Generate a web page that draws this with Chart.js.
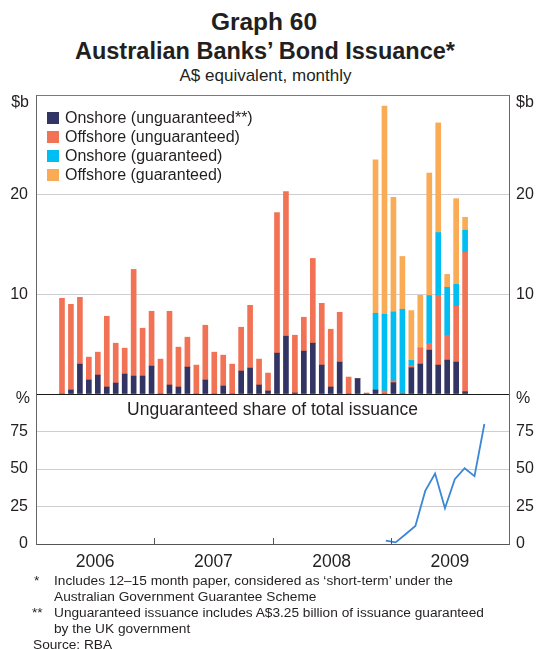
<!DOCTYPE html>
<html><head><meta charset="utf-8">
<script src="https://cdn.jsdelivr.net/npm/chart.js@4.4.1/dist/chart.umd.min.js"></script>
<style>
body{margin:0;background:#fff;}
#wrap{position:relative;width:537px;height:649px;overflow:hidden;font-family:"Liberation Sans",Arial,sans-serif;color:#231f20;background:#fff;}
.t{position:absolute;white-space:nowrap;line-height:1;}
canvas{position:absolute;left:0;}
.sw{position:absolute;width:12px;height:12px;left:47px;}
</style></head><body><div id="wrap">
<div class="t" style="left:0;width:528px;text-align:center;top:10px;font-weight:bold;font-size:24.5px;">Graph 60</div>
<div class="t" style="left:0;width:530px;text-align:center;top:40px;font-weight:bold;font-size:23.5px;">Australian Banks’ Bond Issuance*</div>
<div class="t" style="left:0;width:531px;text-align:center;top:67px;font-size:17px;">A$ equivalent, monthly</div>

<canvas id="bars" width="537" height="319" style="top:85px"></canvas>
<canvas id="line" width="537" height="191" style="top:384px"></canvas>

<div class="t" style="right:508px;top:94px;font-size:16px;">$b</div>
<div class="t" style="left:516px;top:94px;font-size:16px;">$b</div>
<div class="t" style="right:507px;top:390px;font-size:16px;">%</div>
<div class="t" style="left:516px;top:390px;font-size:16px;">%</div>
<div class="t" style="left:36px;width:473px;text-align:center;top:401px;font-size:17.5px;">Unguaranteed share of total issuance</div>

<div id="legend"></div>

<div class="t" style="left:34px;top:574px;font-size:13.7px;">*</div>
<div class="t" style="left:54px;top:574px;font-size:13.7px;">Includes 12–15 month paper, considered as ‘short-term’ under the</div>
<div class="t" style="left:54px;top:590px;font-size:13.7px;">Australian Government Guarantee Scheme</div>
<div class="t" style="left:32px;top:606px;font-size:13.7px;">**</div>
<div class="t" style="left:54px;top:606px;font-size:13.7px;">Unguaranteed issuance includes A$3.25 billion of issuance guaranteed</div>
<div class="t" style="left:54px;top:622px;font-size:13.7px;">by the UK government</div>
<div class="t" style="left:33px;top:638px;font-size:13.7px;">Source: RBA</div>
</div>
<script>
// ---- categories / tick labels ----
const years = ['2006', '2007', '2008', '2009'];
const monthNames = ['Jan','Feb','Mar','Apr','May','Jun','Jul','Aug','Sep','Oct','Nov','Dec'];
const months = years.flatMap(y => monthNames.map(m => m + ' ' + y));

// ---- series (A$b), Jan 2006 – Oct 2009 ----
const onshoreUnguaranteed = [0, 0.4, 3.0, 1.4, 1.9, 0.7, 1.1, 2.0, 1.8, 1.8, 2.8, 0,
  0.9, 0.7, 2.7, 0, 1.4, 0, 0.8, 0, 2.3, 2.6, 0.9, 0.3,
  4.1, 5.8, 0.1, 4.3, 5.1, 2.9, 0.7, 3.2, 0, 1.55, 0, 0.4,
  0, 1.13, 0, 2.63, 3.0, 4.4, 2.9, 3.4, 3.2, 0.23];
const offshoreUnguaranteed = [9.6, 8.6, 6.7, 2.3, 2.3, 7.1, 4.0, 2.6, 10.7, 4.8, 5.5, 3.5,
  7.4, 4.0, 3.0, 2.9, 5.5, 4.2, 3.1, 3.0, 4.4, 6.3, 2.6, 1.8,
  14.1, 14.5, 5.8, 3.4, 8.5, 6.2, 5.8, 5.0, 1.7, 0, 0.1, 0,
  0.3, 0.2, 0.1, 0.24, 1.6, 0.67, 7.0, 2.5, 5.6, 14.0];
// guaranteed issuance starts Dec 2008
const guaranteedFrom = 'Dec 2008';
const onshoreGuaranteed = [7.7, 7.7, 6.9, 8.4, 0.5, 0, 4.8, 6.3, 4.8, 2.2, 2.2];
const offshoreGuaranteed = [15.4, 20.9, 11.5, 5.3, 5.0, 5.3, 12.3, 11.0, 1.3, 8.6, 1.3];
// unguaranteed share of total issuance (%), Dec 2008 – Oct 2009
const unguaranteedShare = [2.2, 1.1, 6.5, 12, 35.4, 47, 23.8, 43.2, 50.5, 45.2, 80];

const seriesLabels = ['Onshore (unguaranteed**)', 'Offshore (unguaranteed)', 'Onshore (guaranteed)', 'Offshore (guaranteed)'];
const seriesColors = ['#323464', '#f27255', '#00bdf2', '#f9ab56'];

const FONT = '"Liberation Sans", Arial, sans-serif';
const TXT = '#231f20';
const gStart = months.indexOf(guaranteedFrom);
const toPoints = (arr, start = 0) => arr.map((v, i) => ({ x: start + i + 0.5, y: v }));

// HTML legend
const lg = document.getElementById('legend');
seriesLabels.forEach((l, i) => {
  const cy = 117.5 + i * 19;
  const sw = document.createElement('div');
  sw.className = 'sw'; sw.style.top = (cy - 6) + 'px'; sw.style.background = seriesColors[i];
  lg.appendChild(sw);
  const tx = document.createElement('div');
  tx.className = 't'; tx.style.left = '65px'; tx.style.top = (cy - 8) + 'px'; tx.style.fontSize = '16px';
  tx.textContent = l;
  lg.appendChild(tx);
});

const seriesData = [
  toPoints(onshoreUnguaranteed),
  toPoints(offshoreUnguaranteed),
  toPoints(onshoreGuaranteed, gStart),
  toPoints(offshoreGuaranteed, gStart)
];

const tickFont = { family: FONT, size: 16 };
const NONE = 'rgba(0,0,0,0)';

new Chart(document.getElementById('bars'), {
  type: 'bar',
  data: {
    datasets: seriesLabels.map((l, i) => ({
      label: l, data: seriesData[i], backgroundColor: seriesColors[i], borderWidth: 0, barThickness: 5
    }))
  },
  options: {
    responsive: false, animation: false,
    layout: { padding: { top: 10, bottom: 10, left: 0, right: 0 } },
    plugins: { legend: { display: false }, tooltip: { enabled: false } },
    scales: {
      x: { type: 'linear', min: 0, max: 48, stacked: true, display: false },
      y: {
        position: 'left', min: 0, max: 30, stacked: true,
        ticks: { stepSize: 10, padding: 0, color: TXT, font: tickFont, callback: v => (v === 10 || v === 20) ? v : '' },
        grid: { drawTicks: true, tickLength: 8, tickColor: NONE, lineWidth: 1, color: c => c.tick && c.tick.value === 30 ? '#7a7a7a' : (c.tick && c.tick.value === 0 ? '#1a1a1a' : '#cfcfd3') },
        border: { color: '#666', width: 1 },
        afterFit: s => { s.width = 36; }
      },
      yR: {
        position: 'right', min: 0, max: 30,
        ticks: { stepSize: 10, padding: 0, color: TXT, font: tickFont, callback: v => (v === 10 || v === 20) ? v : '' },
        grid: { display: true, drawOnChartArea: false, drawTicks: true, tickLength: 7, tickColor: NONE },
        border: { color: '#666', width: 1 },
        afterFit: s => { s.width = 28; }
      }
    }
  }
});

const yearTicks = {
  id: 'yearTicks',
  afterDatasetsDraw(chart) {
    const { ctx, scales: { x }, chartArea } = chart;
    ctx.save();
    ctx.strokeStyle = '#555'; ctx.lineWidth = 1;
    years.slice(1).forEach((y, i) => {
      const px = Math.round(x.getPixelForValue(12 * (i + 1))) + 0.5;
      ctx.beginPath(); ctx.moveTo(px, chartArea.bottom); ctx.lineTo(px, chartArea.bottom - 6); ctx.stroke();
    });
    ctx.restore();
  }
};

new Chart(document.getElementById('line'), {
  type: 'line',
  data: {
    datasets: [{
      label: 'Unguaranteed share of total issuance', data: toPoints(unguaranteedShare, gStart),
      borderColor: '#3b87d5', borderWidth: 1.8, pointRadius: 0, fill: false, tension: 0
    }]
  },
  options: {
    responsive: false, animation: false,
    layout: { padding: { top: 10, bottom: 0, left: 0, right: 0 } },
    plugins: { legend: { display: false }, tooltip: { enabled: false } },
    scales: {
      x: {
        type: 'linear', min: 0, max: 48,
        afterBuildTicks: s => { s.ticks = years.map((y, i) => ({ value: 12 * i + 6 })); },
        ticks: { autoSkip: false, maxRotation: 0, padding: 0, color: TXT, font: { family: FONT, size: 17.5 }, callback: (v, i) => years[i] },
        grid: { display: false },
        border: { display: true, color: '#555', width: 1 },
        afterFit: s => { s.height = 31; }
      },
      y: {
        position: 'left', min: 0, max: 100,
        ticks: { stepSize: 25, padding: 0, color: TXT, font: tickFont, callback: v => v === 100 ? '' : v },
        grid: { drawTicks: true, tickLength: 8, tickColor: NONE, lineWidth: 1, color: c => (c.tick && (c.tick.value === 0 || c.tick.value === 100)) ? NONE : '#cfcfd3' },
        border: { color: '#666', width: 1 },
        afterFit: s => { s.width = 36; }
      },
      yR: {
        position: 'right', min: 0, max: 100,
        ticks: { stepSize: 25, padding: 0, color: TXT, font: tickFont, callback: v => v === 100 ? '' : v },
        grid: { display: true, drawOnChartArea: false, drawTicks: true, tickLength: 7, tickColor: NONE },
        border: { color: '#666', width: 1 },
        afterFit: s => { s.width = 28; }
      }
    }
  },
  plugins: [yearTicks]
});
</script>
</body></html>
